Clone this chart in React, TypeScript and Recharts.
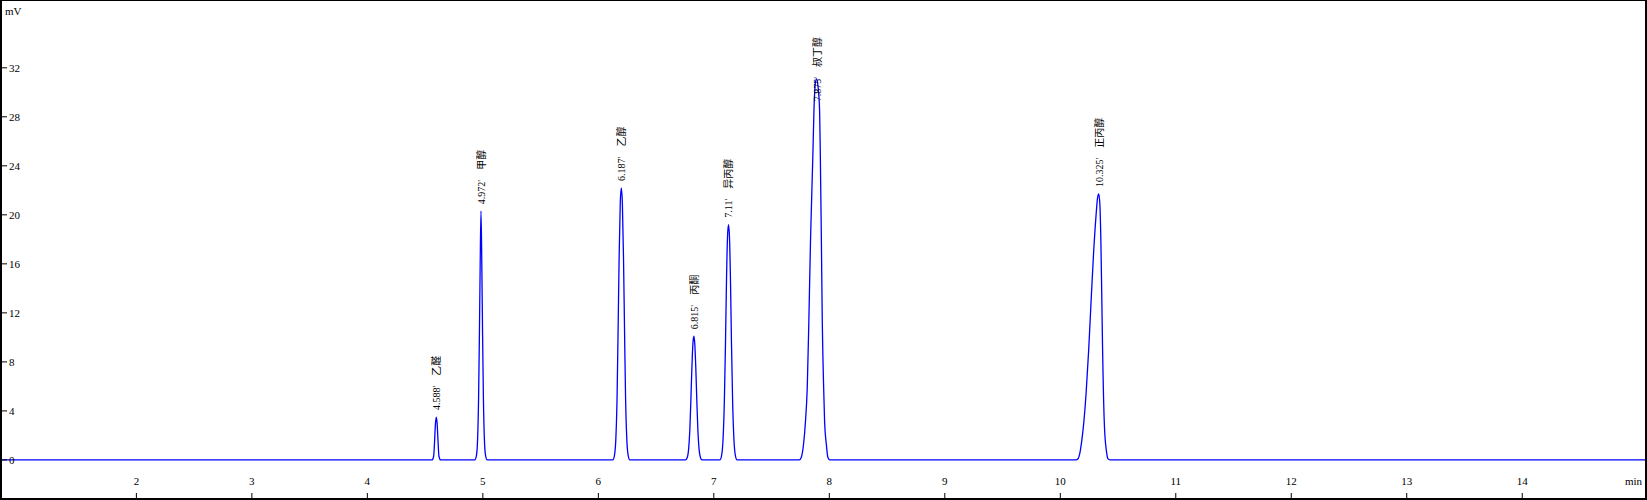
import { LabelList, Line, LineChart, XAxis, YAxis } from "recharts";

const xTicks = [2, 3, 4, 5, 6, 7, 8, 9, 10, 11, 12, 13, 14];
const yTicks = [0, 4, 8, 12, 16, 20, 24, 28, 32];

// peak annotations (retention time + compound)
const peakRt = ["4.588'", "4.972'", "6.187'", "6.815'", "7.11'", "7.875'", "10.325'"];
const peakNames = ["乙醛", "甲醇", "乙醇", "丙酮", "异丙醇", "叔丁醇", "正丙醇"];
const peakApex = [4.597, 4.984, 6.199, 6.827, 7.127, 7.89, 10.333];

// trace, [min, mV]
const baseStart = [[0.82, 0]];
const acetaldehyde = [
  [4.56, 0], [4.574, 0.3], [4.582, 1.5], [4.59, 3.0], [4.597, 3.5],
  [4.604, 3.0], [4.612, 1.5], [4.62, 0.3], [4.634, 0],
];
const methanol = [
  [4.93, 0], [4.945, 0.4], [4.955, 1.8], [4.963, 5.0], [4.97, 10.0], [4.977, 16.0],
  [4.984, 20.3], [4.991, 16.0], [4.998, 10.0], [5.005, 5.0], [5.013, 1.8],
  [5.023, 0.4], [5.038, 0],
];
const ethanol = [
  [6.125, 0], [6.14, 0.4], [6.152, 1.8], [6.162, 5.0], [6.171, 10.5], [6.18, 16.5],
  [6.19, 21.0], [6.199, 22.2], [6.208, 21.0], [6.218, 16.5], [6.227, 10.5],
  [6.236, 5.0], [6.246, 1.8], [6.258, 0.4], [6.273, 0],
];
const acetone = [
  [6.755, 0], [6.77, 0.2], [6.782, 0.9], [6.792, 2.4], [6.801, 4.8], [6.81, 7.5],
  [6.819, 9.5], [6.827, 10.1], [6.835, 9.5], [6.844, 7.5], [6.853, 4.8],
  [6.862, 2.4], [6.872, 0.9], [6.884, 0.2], [6.898, 0],
];
const isopropanol = [
  [7.052, 0], [7.068, 0.4], [7.08, 1.7], [7.091, 4.7], [7.101, 9.5], [7.11, 14.8],
  [7.119, 18.3], [7.127, 19.2], [7.135, 18.3], [7.144, 14.8], [7.153, 9.5],
  [7.163, 4.7], [7.174, 1.7], [7.186, 0.4], [7.202, 0],
];
const tertButanol = [
  [7.74, 0], [7.757, 0.2], [7.777, 1.3], [7.794, 3.2], [7.809, 5.9], [7.823, 11.4],
  [7.838, 18.2], [7.858, 25.0], [7.867, 28.5], [7.88, 30.8], [7.89, 31.1],
  [7.902, 30.5], [7.916, 28.5], [7.922, 25.0], [7.931, 18.2], [7.939, 11.4],
  [7.951, 5.9], [7.959, 3.2], [7.974, 1.3], [7.988, 0.2], [8.005, 0],
];
// fronting peak: long leading edge, sharp tail
const nPropanol = [
  [10.135, 0], [10.154, 0.1], [10.168, 0.5], [10.185, 1.5], [10.203, 3.0],
  [10.224, 5.5], [10.246, 9.0], [10.267, 13.0], [10.289, 17.0], [10.31, 20.0],
  [10.323, 21.4], [10.333, 21.7], [10.343, 20.8], [10.352, 17.6], [10.359, 13.5],
  [10.366, 9.2], [10.383, 2.6], [10.403, 0.5], [10.412, 0.1], [10.43, 0],
];
const baseEnd = [[15.08, 0]];

const rows = [
  baseStart, acetaldehyde, methanol, ethanol, acetone,
  isopropanol, tertButanol, nPropanol, baseEnd,
]
  .flat()
  .map(([t, v]) => {
    const k = peakApex.indexOf(t);
    return { t, mv: v, peak: k >= 0 ? k : undefined };
  });

const FONT = "'Liberation Serif', 'Noto Sans CJK SC', serif";

function PeakLabel(props: any) {
  const { x, y, value } = props;
  if (value === undefined || value === null) return null;
  const rt: string = peakRt[value];
  const name: string = peakNames[value];
  // rough text length so tall labels stay inside the frame
  const rtLen = rt.replace(/[.']/g, "").length * 5 + 4.3;
  const len = rtLen + 10 + name.length * 10;
  const by = Math.max(y - 7, 36 + len);
  return (
    <text
      x={x}
      y={by}
      transform={`rotate(-90, ${x}, ${by})`}
      fontFamily={FONT}
      fontSize={10}
      fill="#000"
      dominantBaseline="central"
    >
      <tspan>{rt}</tspan>
      <tspan dx={10}>{name}</tspan>
    </text>
  );
}

export default function App() {
  return (
    <div
      style={{
        position: "fixed",
        left: 0,
        top: 0,
        width: 1647,
        height: 500,
        boxSizing: "border-box",
        borderStyle: "solid",
        borderColor: "#000",
        borderWidth: "1px 2px 2px 2px",
        background: "#fff",
      }}
    >
      <LineChart
        width={1643}
        height={497}
        data={rows}
        margin={{ top: 0, right: 0, left: 0, bottom: 0 }}
      >
        <XAxis
          dataKey="t"
          type="number"
          domain={[0.8364, 15.063]}
          allowDataOverflow
          ticks={xTicks}
          mirror
          height={1}
          axisLine={false}
          tickLine={{ stroke: "#000" }}
          tickSize={5}
          tickMargin={8}
          tick={{ fill: "#000", fontSize: 11, fontFamily: FONT }}
        />
        <YAxis
          type="number"
          domain={[-3.107, 37.45]}
          allowDataOverflow
          ticks={yTicks}
          mirror
          width={1}
          axisLine={false}
          tickLine={{ stroke: "#000" }}
          tickSize={5}
          tickMargin={2}
          tick={{ fill: "#000", fontSize: 11, fontFamily: FONT }}
        />
        <Line
          type="monotone"
          dataKey="mv"
          stroke="#0000ff"
          strokeWidth={1.3}
          dot={false}
          activeDot={false}
          isAnimationActive={false}
        >
          <LabelList dataKey="peak" content={PeakLabel} />
        </Line>
      </LineChart>
      <span
        style={{
          position: "absolute",
          left: 3,
          top: 5,
          fontFamily: FONT,
          fontSize: 11,
          lineHeight: "11px",
          color: "#000",
        }}
      >
        mV
      </span>
      <span
        style={{
          position: "absolute",
          left: 1623,
          top: 475,
          fontFamily: FONT,
          fontSize: 11,
          lineHeight: "11px",
          color: "#000",
        }}
      >
        min
      </span>
    </div>
  );
}
